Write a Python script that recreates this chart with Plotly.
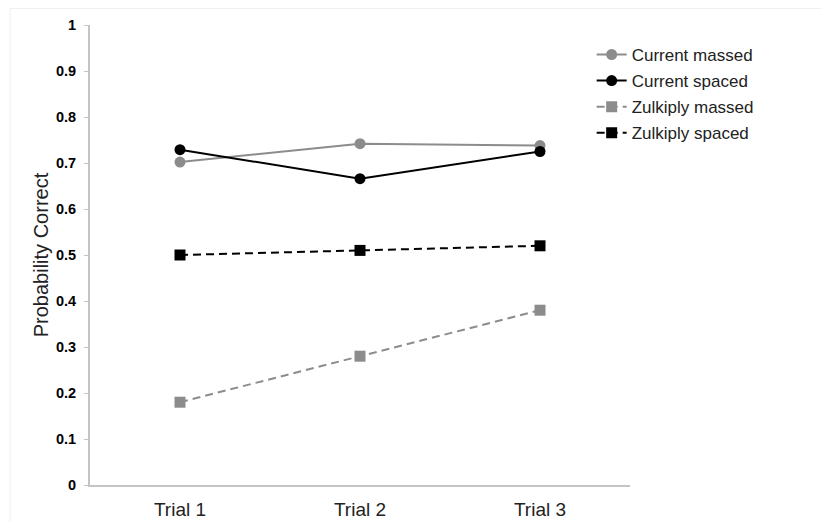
import plotly.graph_objects as go

trials = ["Trial 1", "Trial 2", "Trial 3"]
current_massed = [0.702, 0.742, 0.738]
current_spaced = [0.729, 0.666, 0.725]
zulkiply_massed = [0.18, 0.28, 0.38]
zulkiply_spaced = [0.50, 0.51, 0.52]
y_ticks = [0, 0.1, 0.2, 0.3, 0.4, 0.5, 0.6, 0.7, 0.8, 0.9, 1]
y_tick_labels = ["0", "0.1", "0.2", "0.3", "0.4", "0.5", "0.6", "0.7", "0.8", "0.9", "1"]

GREY = "#8c8c8c"
BLACK = "#000000"
FONT = "Arial, Liberation Sans, sans-serif"

fig = go.Figure()
fig.add_trace(go.Scatter(x=trials, y=current_massed, name="Current massed", mode="lines+markers",
                         legendgroup="a",
                         line=dict(color=GREY, width=2), marker=dict(symbol="circle", size=11, color=GREY)))
fig.add_trace(go.Scatter(x=trials, y=current_spaced, name="Current spaced", mode="lines+markers",
                         legendgroup="b",
                         line=dict(color=BLACK, width=2), marker=dict(symbol="circle", size=11, color=BLACK)))
fig.add_trace(go.Scatter(x=trials, y=zulkiply_massed, name="Zulkiply massed", mode="lines+markers",
                         legendgroup="c",
                         line=dict(color=GREY, width=2, dash="8px,5px"), marker=dict(symbol="square", size=11, color=GREY)))
fig.add_trace(go.Scatter(x=trials, y=zulkiply_spaced, name="Zulkiply spaced", mode="lines+markers",
                         legendgroup="d",
                         line=dict(color=BLACK, width=2, dash="8px,5px"), marker=dict(symbol="square", size=11, color=BLACK)))

fig.update_layout(
    width=821, height=514,
    margin=dict(l=82, r=199, t=17, b=37),
    paper_bgcolor="white", plot_bgcolor="white",
    font=dict(family=FONT, color="#000"),
    showlegend=True,
    legend=dict(x=0.929, xanchor="left", y=0.974, yanchor="top",
                font=dict(size=17, family=FONT, color="#222"),
                tracegroupgap=1, bgcolor="rgba(0,0,0,0)"),
    xaxis=dict(type="category", range=[-0.5, 2.5], showgrid=False, zeroline=False,
               showline=True, linecolor="#c4c4c4", linewidth=2, automargin=False,
               ticks="", ticklabelstandoff=6, tickfont=dict(size=19, family=FONT, color="#222")),
    yaxis=dict(range=[0, 1], tickvals=y_ticks, ticktext=y_tick_labels, showgrid=False, zeroline=False,
               showline=True, linecolor="#c4c4c4", linewidth=2, automargin=False,
               ticks="outside", ticklen=4, tickcolor="#c4c4c4", tickwidth=1, ticklabelstandoff=5,
               tickfont=dict(size=14.5, family=FONT, color="#000", weight="bold"),
               title=dict(text="Probability Correct", font=dict(size=20, family=FONT, color="#222"), standoff=2)),
    shapes=[dict(type="rect", xref="paper", yref="paper", x0=-80/540, x1=1.5, y0=-0.2, y1=(477 - 0.5) / 460,
                 line=dict(color="#f0f0f0", width=1), layer="below")],
)

fig.write_html("out.html")
